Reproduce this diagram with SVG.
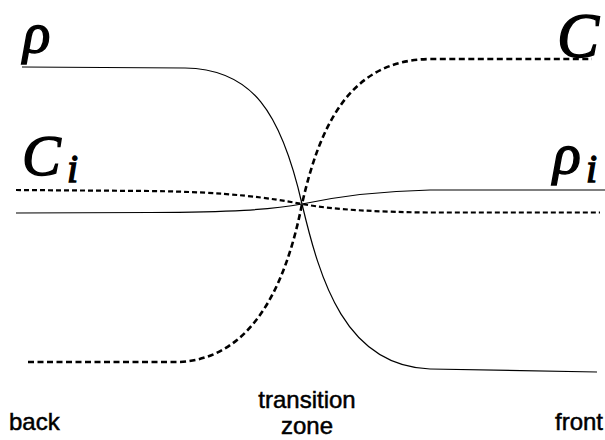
<svg xmlns="http://www.w3.org/2000/svg" width="605" height="440" viewBox="0 0 605 440">
<style>
.solid{fill:none;stroke:#000;stroke-width:1.2}
.dashA{fill:none;stroke:#000;stroke-width:2.6;stroke-dasharray:6 3.5}
.dashB{fill:none;stroke:#000;stroke-width:2.2;stroke-dasharray:5 3}
.math{font-family:"Liberation Serif","DejaVu Serif",serif;font-style:italic;fill:#000;stroke:#000;stroke-width:1.4}
.lbl{font-family:"Liberation Sans",Arial,sans-serif;font-size:24px;fill:#000;stroke:#000;stroke-width:0.5}
</style>
<rect width="605" height="440" fill="#fff"/>
<g id="connectors">
<path id="rho" class="solid" d="M22,67 L185,68 C252,69 281,112 302,204 C320,280 345,366 430,369 L597,372"/>
<path id="C" class="dashA" d="M28,362 L180,362 C250,358 285,290 302,204 C320,125 350,60 430,59 L592,59"/>
<path id="Ci" class="dashB" d="M16,190 L150,191 C230,192 270,198 302,204 C335,210 380,212 430,212.5 L600,212.5"/>
<path id="rhoi" class="solid" d="M16,213 L150,212.5 C230,212 270,210 302,204 C335,197 380,191 430,190 L605,190"/>
</g>
<g id="label-rho"><text class="math" x="23" y="52" font-size="57">ρ</text></g>
<g id="label-C"><text class="math" x="599" y="57" font-size="63" text-anchor="end">C</text></g>
<g id="label-Ci"><text class="math" x="22" y="175" font-size="58">C</text><text class="math" x="67" y="182" font-size="40">i</text></g>
<g id="label-rhoi"><text class="math" x="553" y="173" font-size="58">ρ</text><text class="math" x="586" y="182" font-size="40">i</text></g>
<g id="label-back"><text class="lbl" x="9" y="430">back</text></g>
<g id="label-transition"><text class="lbl" x="307" y="408" text-anchor="middle">transition</text><text class="lbl" x="307" y="434" text-anchor="middle">zone</text></g>
<g id="label-front"><text class="lbl" x="603" y="430" text-anchor="end">front</text></g>
</svg>
